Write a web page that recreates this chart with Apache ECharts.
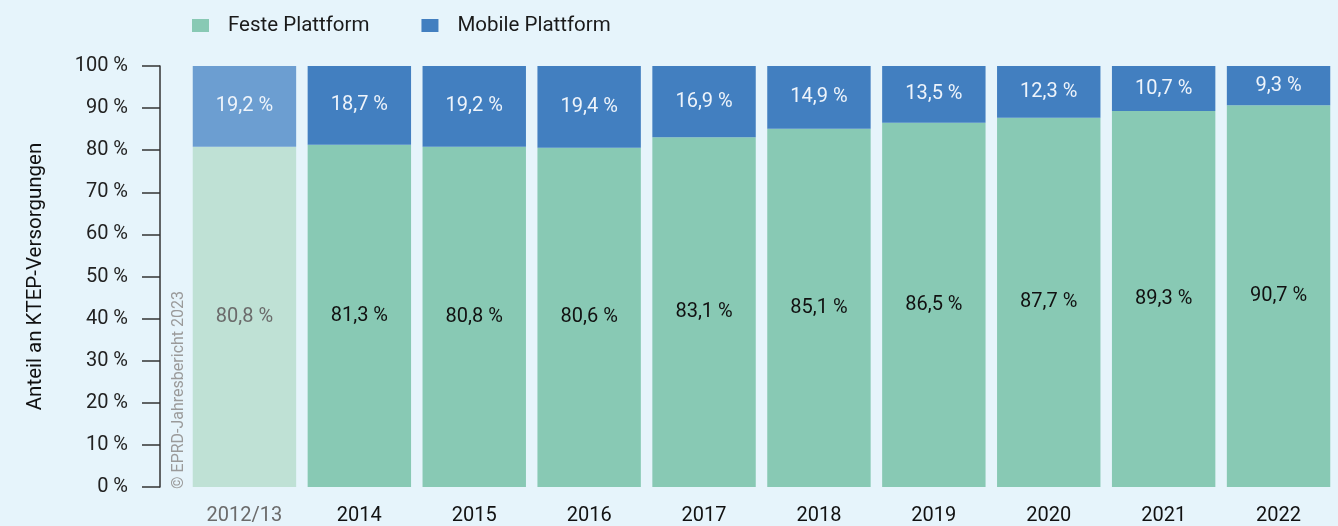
<!DOCTYPE html>
<html>
<head>
    <meta charset="UTF-8">
    <title>KTEP-Versorgungen</title>
    <script src="https://cdn.jsdelivr.net/npm/echarts@6/dist/echarts.min.js"></script>
    <style>
        body, html { margin: 0; padding: 0; background: #e6f4fb; }
        #chart { width: 1338px; height: 526px; }
    </style>
</head>
<body>
<div id="chart"></div>
<script>
    var years = ['2012/13', '2014', '2015', '2016', '2017', '2018', '2019', '2020', '2021', '2022'];
    var feste = [80.8, 81.3, 80.8, 80.6, 83.1, 85.1, 86.5, 87.7, 89.3, 90.7];
    var mobile = [19.2, 18.7, 19.2, 19.4, 16.9, 14.9, 13.5, 12.3, 10.7, 9.3];
    var yTicks = [0, 10, 20, 30, 40, 50, 60, 70, 80, 90, 100];

    var fmt = function (v) { return String(v).replace('.', ',') + ' %'; };
    var font = 'Roboto';
    var fs = 20;

    // erster Balken (2012/13) blasser dargestellt
    var festeData = feste.map(function (v, i) {
        return i === 0 ? {value: v, itemStyle: {color: '#bfe1d5'}, label: {color: '#6b6b6b'}} : v;
    });
    var mobileData = mobile.map(function (v, i) {
        return i === 0 ? {value: v, itemStyle: {color: '#6c9ed1'}} : v;
    });

    var echart = echarts.init(document.getElementById('chart'));
    echart.setOption({
        backgroundColor: '#e6f4fb',
        textStyle: {fontFamily: font},
        legend: {
            left: 187, top: 10,
            itemWidth: 17, itemHeight: 13, itemGap: 52,
            textStyle: {fontSize: 20.5, color: '#1a1a1a', padding: [0, 0, 0, 14]},
            data: [
                {name: 'Feste Plattform', icon: 'rect'},
                {name: 'Mobile Plattform', icon: 'rect'}
            ]
        },
        grid: {left: 187, right: 2, top: 66, bottom: 37},
        xAxis: {
            type: 'category',
            data: years,
            axisLine: {show: false},
            axisTick: {show: false},
            axisLabel: {
                fontSize: fs, margin: 19,
                color: function (v, i) { return i === 0 ? '#6b6b6b' : '#111'; }
            }
        },
        yAxis: {
            type: 'value',
            min: yTicks[0], max: yTicks[yTicks.length - 1], interval: 10,
            offset: 27,
            name: 'Anteil an KTEP-Versorgungen',
            nameLocation: 'middle', nameGap: 114, nameRotate: 90,
            nameTextStyle: {fontSize: 20.5, color: '#111'},
            axisLine: {show: true, lineStyle: {color: '#333', width: 1.5}},
            axisTick: {show: true, inside: false, length: 18, lineStyle: {color: '#333', width: 1.5}},
            axisLabel: {fontSize: fs, color: '#222', margin: 32, formatter: '{value} %'},
            splitLine: {show: false}
        },
        series: [
            {
                name: 'Feste Plattform', type: 'bar', stack: 'a',
                data: festeData, barCategoryGap: '10%',
                itemStyle: {color: '#88c9b4'},
                label: {show: true, position: 'inside', fontSize: fs, color: '#111',
                    formatter: function (p) { return fmt(p.value); }}
            },
            {
                name: 'Mobile Plattform', type: 'bar', stack: 'a',
                data: mobileData,
                itemStyle: {color: '#427fc0'},
                label: {show: true, position: 'inside', fontSize: fs, color: '#eef4fb',
                    formatter: function (p) { return fmt(p.value); }}
            }
        ],
        graphic: [{
            type: 'text', x: 171, y: 489, rotation: Math.PI / 2,
            style: {text: '© EPRD-Jahresbericht 2023', fill: '#9a9a9a', fontSize: 16, fontFamily: font,
                textAlign: 'left', textVerticalAlign: 'top'}
        }]
    });
</script>
</body>
</html>
